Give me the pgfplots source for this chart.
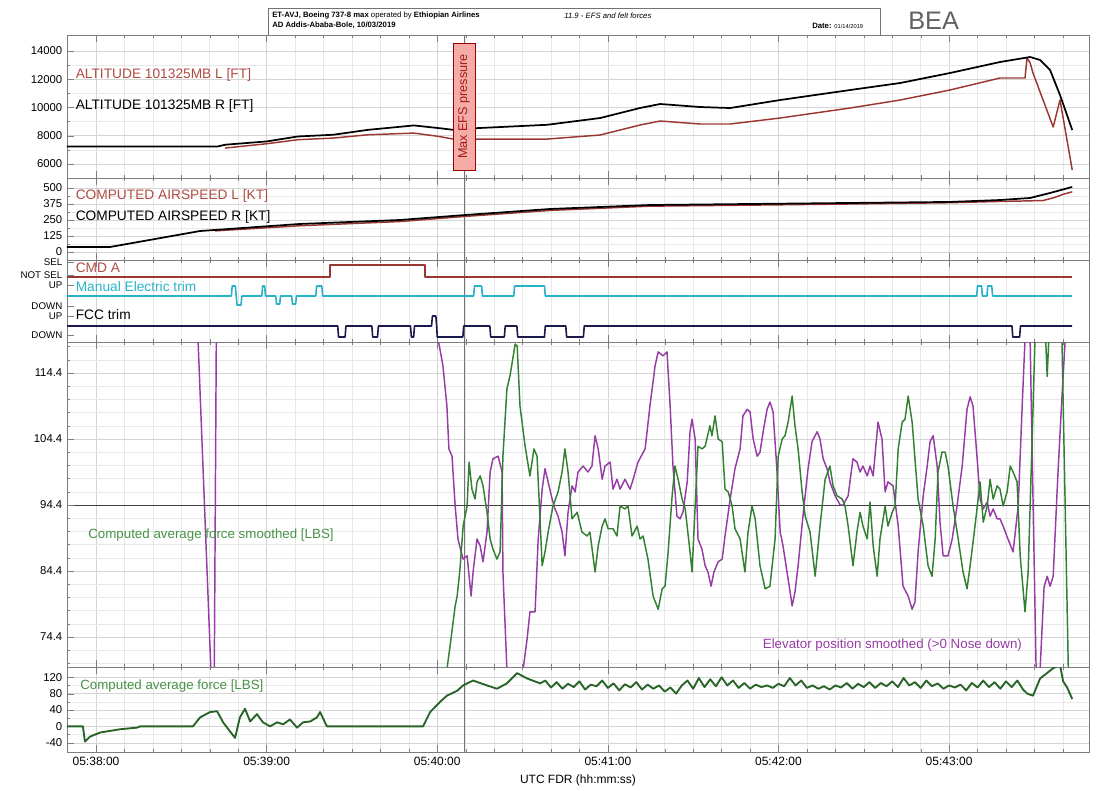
\documentclass[border=0pt]{standalone}
\usepackage{pgfplots}
\usepackage{pgfplotstable}
\pgfplotsset{compat=1.18}
\usepackage{fontspec}
\setmainfont{Liberation Sans}
\setsansfont{Liberation Sans}

\definecolor{altL}{RGB}{155,55,50}
\definecolor{labL}{RGB}{175,75,65}
\definecolor{mantrim}{RGB}{40,178,200}
\definecolor{fcc}{RGB}{25,25,75}
\definecolor{grn}{RGB}{50,128,50}
\definecolor{grndk}{RGB}{40,100,40}
\definecolor{grnlab}{RGB}{70,145,70}
\definecolor{purp}{RGB}{150,60,165}
\definecolor{efsfill}{RGB}{246,172,166}
\definecolor{efstext}{RGB}{165,25,25}
\definecolor{framec}{RGB}{125,125,125}

\tikzset{lab/.style={anchor=west, font=\fontsize{10.3}{11}\selectfont, inner sep=0pt}}

\pgfplotsset{
  panel/.style={
    scale only axis, width=766.5pt,
    xmin=-10.2, xmax=349.2,
    xtick={0,60,...,300}, minor xtick={-10,0,...,340},
    xticklabels={},
    grid=both,
    major grid style={black!17},
    minor grid style={black!9},
    axis line style={framec},
    tick style={framec},
    major tick length=5pt, minor tick length=2.5pt,
    ytick pos=left,
    scaled y ticks=false,
    tick label style={font=\fontsize{8.5}{9}\selectfont,
      /pgf/number format/assume math mode=true},
    yticklabel style={/pgf/number format/set thousands separator={}},
    extra x ticks={129.4}, extra x tick labels={},
    extra x tick style={grid=major, major grid style={black!55, line width=0.6pt}, major tick length=0pt},
    every axis plot/.append style={line join=round},
  },
}

% ---------------- data ----------------
\pgfplotstableread{
t v
-10.2 7247
42.9 7247
45.4 7365
60.1 7600
71.0 7950
83.4 8070
95.7 8420
111.8 8730
120.6 8540
125.6 8420
134.0 8540
158.6 8775
177.3 9256
191.3 9964
198.4 10248
212.4 10035
223.0 9964
240.6 10531
265.2 11239
282.8 11734
300.3 12442
317.9 13221
328.5 13575
332.0 13363
335.5 12655
339.0 10885
343.3 8407
}\altR

\pgfplotstableread{
t v
45.4 7130
60.1 7435
71.0 7720
83.4 7835
95.7 8070
111.8 8190
120.6 7950
125.6 7765
134.0 7765
158.6 7765
177.3 8053
191.3 8761
198.4 9044
212.4 8832
223.0 8832
240.6 9256
265.2 9964
282.8 10531
300.3 11239
317.9 12088
326.7 12088
327.4 13504
328.5 13150
329.5 12442
336.6 8619
339.0 10531
343.3 5575
}\altL

\begin{document}
\begin{tikzpicture}
\path (0pt,0pt) rectangle (824.25pt,-590.25pt);

% header
\draw[black!55, line width=0.5pt] (201pt,-6pt) rectangle (660pt,-26.25pt);
\node[anchor=west, inner sep=0pt, font=\fontsize{5.8}{6}\selectfont] at (204pt,-11.8pt)
  {\textbf{ET-AVJ, Boeing 737-8 max} operated by \textbf{Ethiopian Airlines}};
\node[anchor=west, inner sep=0pt, font=\fontsize{5.8}{6}\selectfont] at (204pt,-19.3pt)
  {\textbf{AD Addis-Ababa-Bole, 10/03/2019}};
\node[anchor=west, inner sep=0pt, font=\fontsize{5.8}{6}\selectfont] at (423pt,-11.8pt)
  {\textit{11.9 - EFS and felt forces}};
\node[anchor=west, inner sep=0pt, font=\fontsize{5.8}{6}\selectfont] at (609pt,-19.3pt)
  {\textbf{Date:} {\fontsize{4.3}{5}\selectfont 01/14/2019}};
\node[anchor=base west, inner sep=0pt, font=\fontsize{19}{19}\selectfont, text=black!62] at (681pt,-22pt) {BEA};

% ---- altitude panel
\begin{axis}[panel, at={(50.25pt,-26.25pt)}, anchor=north west, height=107.25pt,
  ymin=5009, ymax=15133, ytick={6000,8000,...,14000}, minor ytick={7000,9000,...,13000}]
\addplot[altL, line width=1.1pt] table[x=t,y=v] {\altL};
\addplot[black, line width=1.3pt] table[x=t,y=v] {\altR};
\node[lab, text=labL] at (axis cs:-7.2,12300) {ALTITUDE 101325MB L [FT]};
\node[lab, text=black] at (axis cs:-7.2,10100) {ALTITUDE 101325MB R [FT]};
\node[rotate=90, fill=efsfill, draw=red!60!black, line width=0.4pt, text=efstext,
  font=\fontsize{9.5}{10}\selectfont, minimum width=95pt, inner ysep=4pt]
  at (axis cs:129.4,10070) {Max EFS pressure};
\end{axis}

% ---- airspeed panel
\begin{axis}[panel, at={(50.25pt,-133.5pt)}, anchor=north west, height=61.5pt,
  ymin=-62.5, ymax=578, ytick={0,125,250,375,500}, minor ytick={62.5,187.5,312.5,437.5}]
\addplot[altL, line width=1.1pt] coordinates {
(41.9,165) (71.7,205) (106.9,238) (129.8,278) (159.7,325) (194.8,358) (230,366)
(265.2,375) (300.3,385) (317.9,395) (325,398) (333,402) (337,425) (340,450) (343.3,470)};
\addplot[black, line width=1.3pt] coordinates {
(-10.2,39) (4.9,39) (36.6,164) (71.7,219) (106.9,250) (129.8,289) (159.7,336) (194.8,367)
(230,375) (265.2,383) (300.3,391) (317.9,406) (328.5,422) (335.5,461) (343.3,508)};
\node[lab, text=labL] at (axis cs:-7.2,440) {COMPUTED AIRSPEED L [KT]};
\node[lab, text=black] at (axis cs:-7.2,272) {COMPUTED AIRSPEED R [KT]};
\end{axis}

% ---- discrete panel
\begin{axis}[panel, at={(50.25pt,-195pt)}, anchor=north west, height=61.5pt,
  ymin=0, ymax=82, ymajorgrids=false, yminorgrids=false,
  ytick={7,26,36,57,67,80}, yticklabels={DOWN,UP,DOWN,UP,NOT SEL,SEL},
  yticklabel style={font=\fontsize{7.3}{7.3}\selectfont}]
\addplot[altL, line width=1.2pt] coordinates {
(-10.2,65) (82.3,65) (82.3,77) (115.7,77) (115.7,65) (343.3,65)};
\addplot[mantrim, line width=1.2pt] coordinates {
(-10.2,46) (47.6,46) (47.9,56) (49.0,56) (49.3,46) (49.6,37) (51.0,37) (51.3,46)
(58.3,46) (58.6,56) (59.3,56) (59.6,46) (63.2,46) (63.5,38) (64.6,38) (64.9,46)
(68.8,46) (69.1,38) (70.2,38) (70.5,46) (77.3,46) (77.6,56) (79.4,56) (79.7,46)
(132.8,46) (133.1,56) (135.6,56) (135.9,46) (146.9,46) (147.2,56) (157.7,56) (158.0,46)
(309.7,46) (310.0,56) (311.4,56) (311.7,46) (313.3,46) (313.6,56) (315.0,56) (315.3,46)
(343.3,46)};
\addplot[fcc, line width=1.2pt] coordinates {
(-10.2,16) (85.0,16) (85.3,5) (87.6,5) (87.9,16) (97.0,16) (97.3,5) (99.0,5) (99.3,16)
(110.6,16) (110.9,5) (111.7,5) (112.0,16) (118.0,16) (118.3,26) (119.5,26) (119.8,16)
(120.0,5) (129.0,5) (129.3,16) (138.5,16) (138.8,5) (143.6,5) (143.9,16) (148.0,16)
(148.3,5) (157.7,5) (158.0,16) (165.2,16) (165.5,5) (171.4,5) (171.7,16) (322.1,16)
(322.4,5) (324.8,5) (325.1,16) (343.3,16)};
\node[lab, text=labL] at (axis cs:-7.2,74) {CMD A};
\node[lab, text=mantrim] at (axis cs:-7.2,55) {Manual Electric trim};
\node[lab, text=black] at (axis cs:-7.2,27) {FCC trim};
\end{axis}

% ---- force / elevator panel
\begin{axis}[panel, at={(50.25pt,-256.5pt)}, anchor=north west, height=243.75pt,
  ymin=69.85, ymax=119.1, ytick={74.4,84.4,94.4,104.4,114.4},
  yticklabels={74.4,84.4,94.4,104.4,114.4},
  minor ytick={70.4,72.4,76.4,78.4,80.4,82.4,86.4,88.4,90.4,92.4,96.4,98.4,100.4,102.4,106.4,108.4,110.4,112.4,116.4,118.4},
  extra y ticks={94.4}, extra y tick labels={},
  extra y tick style={grid=major, major grid style={black!75, line width=0.6pt}}]
\addplot[purp, line width=1.1pt] coordinates {
(-10.2,123) (34.5,123) (35.9,119.2) (40.4,69.5) (40.9,66) (41.2,66) (41.6,69.5) (42.3,119.2)
(42.8,123) (119.8,123) (120.3,119.55) (122.0,115.5) (123.4,109.4) (124.1,102.9) (125.2,101.8)
(126.3,94.25) (127.3,89.25) (128.4,87.3) (129.1,86.2) (130.5,86.7) (131.9,80.6) (132.6,84.25)
(134.0,89.25) (135.1,88.2) (136.1,85.8) (137.5,90.3) (138.6,99.4) (139.6,101.4) (141.4,101.8)
(142.8,99.4) (143.1,84.25) (144.5,69.5) (145,66) (149.5,66) (150.2,69.5) (151.6,74.1)
(152.6,78.2) (154.4,78.2) (155.5,89.25) (156.9,96.8) (157.9,99.9) (159.0,97.9) (160.4,95.3)
(161.4,93.8) (162.5,92.7) (163.9,90.3) (164.9,86.7) (166.0,93.3) (167.4,97.3) (168.5,96.4)
(169.5,99.4) (171.3,100.3) (173.0,99.4) (174.4,100.3) (175.5,104.9) (176.6,102.9) (178.0,98.3)
(179.0,100.3) (180.8,100.9) (181.8,96.8) (183.2,98.3) (184.3,96.8) (186.0,98.3) (187.8,96.8)
(188.9,98.3) (190.6,100.9) (193.1,102.9) (194.8,109.4) (196.6,115.5) (197.7,117.6) (199.4,117.0)
(200.8,117.6) (201.9,109.4) (202.9,100.3) (204.3,92.7) (205.4,92.3) (206.4,93.3) (207.9,97.9)
(208.9,105.5) (209.6,107.4) (210.7,104.4) (211.7,89.25) (213.1,87.7) (214.2,85.2) (215.2,84.25)
(216.3,82.1) (217.3,84.25) (218.8,85.8) (220.2,86.2) (221.2,89.7) (223.0,95.3) (224.7,99.9)
(226.5,102.9) (227.5,107.9) (229.0,108.9) (230.0,108.5) (231.1,104.4) (232.5,101.8) (233.5,102.4)
(234.6,105.5) (236.0,108.9) (237.0,110.0) (238.1,108.5) (239.5,99.4) (240.6,90.3) (241.6,88.2)
(243.0,84.25) (244.1,81.2) (244.8,79.1) (245.8,81.2) (246.9,85.2) (248.6,92.7) (250.4,99.9)
(251.8,104.0) (253.6,105.5) (254.6,104.4) (255.7,101.4) (257.1,99.9) (258.1,97.9) (259.9,95.8)
(261.7,94.4) (262.7,94.4) (264.5,95.8) (266.2,101.4) (267.6,100.9) (268.7,99.4) (269.7,100.3)
(271.2,98.8) (272.2,100.3) (273.3,98.8) (275.0,106.97) (276.4,104.4) (277.5,96.4) (278.5,97.9)
(280.3,97.3) (282.1,91.2) (283.8,82.1) (285.6,80.6) (287.0,78.6) (288.0,79.7) (289.1,87.3)
(290.9,95.8) (292.3,100.3) (293.3,104.0) (294.4,104.9) (295.8,100.3) (296.8,91.8) (297.9,86.7)
(299.6,86.7) (301.1,89.25) (302.8,94.25) (304.6,100.3) (306.3,108.9) (307.4,110.8) (308.4,109.4)
(309.8,101.8) (310.9,95.3) (312.0,93.8) (313.4,94.85) (314.4,92.7) (315.5,93.8) (316.9,92.3)
(317.9,92.3) (319.0,91.2) (320.7,89.25) (322.5,87.3) (324.3,94.25) (325.7,109.4) (326.7,119.55)
(327.4,123) (328.1,123) (328.5,119.2) (330.6,69.5) (331,66) (331.7,66) (332.0,69.5) (333.4,82.0)
(334.5,83.6) (335.5,82.1) (336.6,83.6) (338.3,99.4) (339.7,110.9) (340.8,119.2) (341.2,123)};
\addplot[grn, line width=1.1pt] coordinates {
(122.5,66) (123.4,69.5) (124.5,73.0) (126.3,79.1) (127.0,80.6) (128.0,84.7) (129.1,91.2)
(130.5,94.25) (131.2,100.9) (132.2,96.8) (133.3,95.3) (134.0,97.9) (135.1,98.8) (136.1,97.3)
(137.5,93.3) (138.6,89.25) (139.6,87.7) (141.0,86.2) (142.1,87.3) (143.1,101.8) (144.5,112.0)
(145.6,114.0) (147.4,118.8) (148.1,118.5) (149.1,109.4) (150.9,103.3) (152.6,98.8) (154.0,102.9)
(155.1,101.8) (156.9,85.2) (157.9,87.3) (159.0,90.3) (160.7,94.25) (162.5,96.4) (163.9,99.4)
(164.9,102.9) (166.0,99.4) (167.4,92.3) (169.2,93.3) (170.9,90.3) (172.7,89.7) (173.7,90.3)
(175.5,84.25) (176.6,88.2) (178.0,91.2) (179.0,92.3) (180.1,90.8) (181.8,90.8) (183.2,89.7)
(184.3,94.25) (186.0,93.8) (187.1,94.25) (188.5,89.7) (190.3,91.2) (191.3,89.25) (192.4,89.7)
(194.1,86.2) (195.9,80.6) (197.7,78.6) (199.1,81.7) (200.1,82.1) (201.2,87.3) (202.6,95.8)
(203.6,100.3) (204.7,98.3) (206.1,95.3) (207.2,93.8) (208.9,87.3) (209.6,84.25) (210.7,94.25)
(211.7,103.3) (213.1,102.9) (214.2,103.3) (215.9,106.4) (216.6,104.9) (217.7,107.9) (218.8,104.4)
(220.2,104.0) (221.2,96.8) (222.3,96.4) (223.7,94.25) (224.7,90.8) (226.5,89.25) (228.2,84.25)
(229.3,90.3) (230.7,94.25) (231.8,92.3) (233.5,85.2) (235.3,81.7) (237.0,82.1) (238.8,89.25)
(239.9,101.8) (241.3,104.4) (242.3,104.9) (243.4,107.0) (244.8,110.9) (245.8,106.4) (246.9,102.9)
(248.3,96.4) (249.4,92.7) (251.1,90.3) (252.9,83.6) (254.6,91.2) (256.4,98.3) (258.1,100.3)
(259.2,97.3) (260.6,95.8) (262.4,95.3) (263.4,94.25) (264.5,91.2) (266.2,85.2) (267.6,90.3)
(268.7,93.3) (269.7,91.2) (271.2,89.25) (272.2,94.85) (273.3,88.2) (274.7,83.6) (275.7,89.25)
(277.5,94.25) (278.5,91.2) (280.0,93.3) (281.0,94.25) (282.1,102.9) (283.5,106.97) (284.5,107.4)
(285.6,110.9) (287.0,106.97) (288.0,101.4) (289.1,95.3) (290.9,91.2) (292.6,85.2) (294.0,83.6)
(295.1,89.25) (296.1,99.4) (297.5,102.4) (298.6,102.4) (299.6,100.3) (301.4,94.25) (303.2,89.25)
(304.9,84.25) (306.3,81.7) (307.4,85.2) (309.1,91.2) (310.9,97.9) (312.0,91.8) (313.4,94.25)
(314.4,98.3) (315.5,95.3) (316.9,97.3) (317.9,96.8) (319.0,94.25) (320.4,96.4) (321.5,100.3)
(322.5,99.4) (323.9,97.9) (325.0,86.7) (326.7,78.2) (327.8,84.25) (329.2,104.4) (330.2,119.5)
(331,123) (333.6,123) (334.5,113.9) (335.4,123) (339.5,123) (339.7,119.2) (341.9,70) (342.2,66)};
\node[anchor=west, inner sep=0pt, font=\fontsize{10}{11}\selectfont, text=grnlab] at (axis cs:-2.8,89.8) {Computed average force smoothed [LBS]};
\node[anchor=east, inner sep=0pt, font=\fontsize{10}{11}\selectfont, text=purp] at (axis cs:325.7,73.2) {Elevator position smoothed (>0 Nose down)};
\end{axis}

% ---- computed average force panel
\begin{axis}[panel, at={(50.25pt,-500.25pt)}, anchor=north west, height=63.75pt,
  ymin=-62.5, ymax=145, ytick={-40,0,40,80,120}, minor ytick={-20,20,60,100},
  xticklabels={05:38:00,05:39:00,05:40:00,05:41:00,05:42:00,05:43:00},
  xticklabel style={font=\fontsize{9}{9}\selectfont},
  xlabel={UTC FDR (hh:mm:ss)},
  xlabel style={at={(axis description cs:0.5,0)}, anchor=center, yshift=-21pt, font=\fontsize{9}{9}\selectfont}]
\addplot[grndk, line width=1.4pt] coordinates {
(-10.2,0) (-4.6,0) (-3.9,-37) (-2.1,-25) (1.4,-15) (8.4,-7) (14.4,-3) (15.5,0) (34.1,0)
(36.6,22) (40.1,35) (42.6,37) (44.7,10) (47.1,-12) (48.9,-28) (50.6,22) (52.4,43) (54.2,12)
(56.6,30) (58.7,10) (61.2,0) (63.7,10) (65.8,5) (68.2,17) (70.7,-3) (72.8,10) (75.3,12)
(77.7,22) (78.8,35) (81.2,0) (115.0,0) (117.5,35) (121.0,60) (123.4,75) (127.0,87) (129.1,100)
(132.6,112) (137.5,100) (141.0,92) (144.5,105) (148.1,130) (151.6,117) (156.2,105)
(158,112) (160,95) (162,108) (164,92) (166,104) (168,96) (170,110) (172,90) (174,102)
(176,98) (178,112) (180,94) (182,105) (184,88) (186,103) (188,95) (190,108) (192,90)
(194,102) (196,92) (198,100) (200,85) (202,95) (204,80) (206,100) (208,112) (210,92)
(212,118) (214,96) (216,115) (218,98) (220,120) (222,100) (224,112) (226,94) (228,106)
(230,92) (232,102) (234,96) (236,100) (238,94) (240,104) (242,98) (244,118) (246,100)
(248,112) (250,94) (252,100) (254,92) (256,98) (258,90) (260,100) (262,95) (264,106)
(266,92) (268,104) (270,96) (272,108) (274,94) (276,106) (278,98) (280,110) (282,96)
(284,118) (286,100) (288,108) (290,94) (292,112) (294,98) (296,105) (298,92) (300,100)
(302,95) (304,102) (306,88) (308,106) (310,95) (312,112) (314,96) (316,108) (318,92)
(320,110) (322,96) (324,112) (326,90) (327.5,80) (329.5,75) (332.0,117) (336.6,142)
(339.0,150) (340.1,110) (341.5,95) (342.6,78) (343.3,67)};
\node[anchor=west, inner sep=0pt, font=\fontsize{10}{11}\selectfont, text=grnlab] at (axis cs:-5.6,98) {Computed average force [LBS]};
\end{axis}
\end{tikzpicture}
\end{document}
